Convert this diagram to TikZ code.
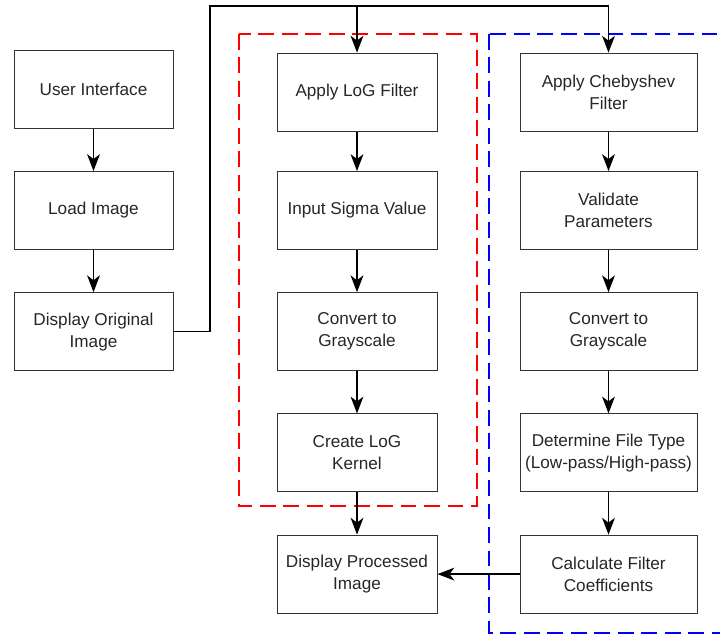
\documentclass[tikz,border=0pt]{standalone}
\usepackage{fontspec}
\setmainfont{Liberation Sans}
\usetikzlibrary{shapes, arrows.meta}

\begin{document}
\begin{tikzpicture}[node distance=3.03cm,
    box/.style={draw=black!80, line width=0.7pt, rectangle, align=center, text=black!85,
        minimum width=3.975cm, minimum height=1.95cm, font=\fontsize{12.2pt}{15.6pt}\selectfont},
    wide/.style={minimum width=4.425cm},
    flow/.style={line width=0.9pt, -{Stealth[length=0.42cm, width=0.32cm, inset=0.12cm]}},
    group/.style={line width=1.5pt, dash pattern=on 11.3pt off 5.4pt}]
        \useasboundingbox (0,0) rectangle (18,-15.9);

        % left column
        \node (ui) [box] at (2.3375,-2.2325) {User Interface};
        \node (load) [box, below of=ui] {Load Image};
        \node (dorig) [box, below of=load] {Display Original\\Image};

        % LoG column
        \node (sigma) [box, minimum width=4cm, right of=load, node distance=6.5875cm] {Input Sigma Value};
        \node (logf) [box, minimum width=4cm, above of=sigma, node distance=2.96cm] {Apply LoG Filter};
        \node (gray1) [box, minimum width=4cm, below of=sigma] {Convert to\\Grayscale};
        \node (kernel) [box, minimum width=4cm, below of=gray1] {Create LoG\\Kernel};
        \node (dproc) [box, minimum width=4cm, below of=kernel] {Display Processed\\Image};

        % Chebyshev column
        \node (valid) [box, wide, right of=sigma, node distance=6.2875cm] {Validate\\Parameters};
        \node (cheb) [box, wide, above of=valid, node distance=2.96cm] {Apply Chebyshev\\Filter};
        \node (gray2) [box, wide, below of=valid] {Convert to\\Grayscale};
        \node (ftype) [box, wide, below of=gray2] {Determine File Type\\(Low-pass/High-pass)};
        \node (coeff) [box, wide, below of=ftype] {Calculate Filter\\Coefficients};

        % dashed groups
        \draw [group, red] (5.9675,-0.85) rectangle (11.925,-12.65);
        \draw [group, blue] (12.225,-0.85) rectangle (18.3,-15.825);

        \draw [flow] (ui) -- (load);
        \draw [flow] (load) -- (dorig);

        \coordinate (split) at (5.25,-0.15);
        \draw [flow] (dorig.east) -| (split) -| (logf.north);
        \draw [flow] (split) -| (cheb.north);

        \draw [flow] (logf) -- (sigma);
        \draw [flow] (sigma) -- (gray1);
        \draw [flow] (gray1) -- (kernel);
        \draw [flow] (kernel) -- (dproc);

        \draw [flow] (cheb) -- (valid);
        \draw [flow] (valid) -- (gray2);
        \draw [flow] (gray2) -- (ftype);
        \draw [flow] (ftype) -- (coeff);
        \draw [flow] (coeff) -- (dproc);
    \end{tikzpicture}
\end{document}
